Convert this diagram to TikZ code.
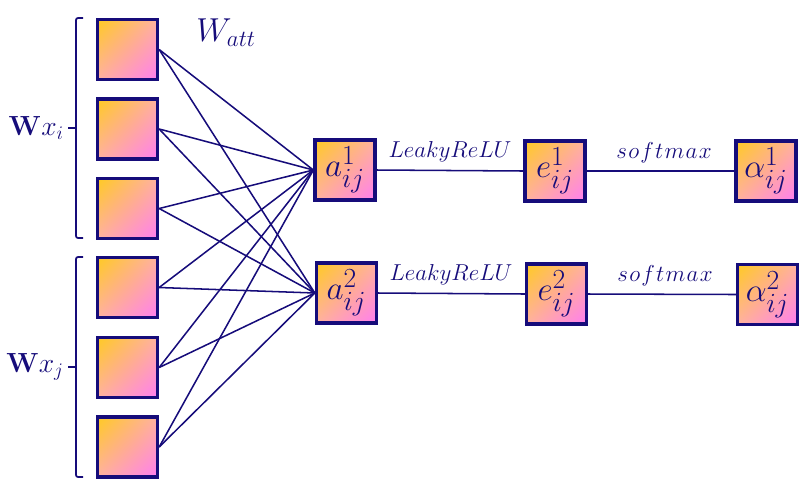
\documentclass[tikz,border=0pt]{standalone}
\usepackage{amsmath}
\usetikzlibrary{shadings}
\begin{document}
\definecolor{navy}{RGB}{22,12,122}
\definecolor{gy}{RGB}{255,202,34}
\definecolor{gm}{RGB}{255,178,160}
\definecolor{gp}{RGB}{255,125,240}
\begin{tikzpicture}[x=0.75pt,y=-0.75pt,
  cell/.style={draw=navy,line width=2.5pt,minimum size=45pt,inner sep=0pt,
    shade,upper left=gy,upper right=gm,lower left=gm,lower right=gp,
    text=navy,font=\fontsize{31}{33}\selectfont},
  link/.style={draw=navy,line width=1.15pt},
  lbl/.style={text=navy,font=\fontsize{16.5}{18}\selectfont,inner sep=0pt},
  sml/.style={text=navy,font=\fontsize{17.5}{19}\selectfont,inner sep=0pt},
  brace/.style={draw=navy,line width=1.3pt,rounded corners=1.5pt}]
\useasboundingbox (0,0) rectangle (800,480);
% left column
\node[cell] (l1) at (127.5,49.5) {};
\node[cell] (l2) at (127.5,129) {};
\node[cell] (l3) at (127.5,208.5) {};
\node[cell] (l4) at (127.5,287.5) {};
\node[cell] (l5) at (127.5,367.5) {};
\node[cell] (l6) at (127.5,447) {};
% attention nodes
\node[cell] (a1) at (345,170) {$a^1_{ij}$};
\node[cell] (a2) at (346.5,293) {$a^2_{ij}$};
\node[cell] (e1) at (555,171) {$e^1_{ij}$};
\node[cell] (e2) at (556.5,294) {$e^2_{ij}$};
\node[cell] (s1) at (766,171) {$\alpha^1_{ij}$};
\node[cell] (s2) at (767.5,294.5) {$\alpha^2_{ij}$};
% connections
\foreach \i in {1,...,6} {
  \draw[link] (l\i.east) -- (a1.west);
  \draw[link] (l\i.east) -- (a2.west);
}
\draw[link] (a1.east) -- (e1.west);
\draw[link] (e1.east) -- (s1.west);
\draw[link] (a2.east) -- (e2.west);
\draw[link] (e2.east) -- (s2.west);
% labels
\node[lbl] (r1) at (450,152) {$LeakyReLU$};
\node[lbl] (r2) at (451,275) {$LeakyReLU$};
\node[sml] (m1) at (664,153) {$s\mkern1mu o\mkern1mu f\mkern1mu t\mkern1mu m\mkern1mu a\mkern1mu x$};
\node[sml] (m2) at (665,276) {$s\mkern1mu o\mkern1mu f\mkern1mu t\mkern1mu m\mkern1mu a\mkern1mu x$};
\node[text=navy,font=\fontsize{26}{28}\selectfont] (watt) at (226,33) {$W_{att}$};
% braces
\coordinate (bi) at (68,128);
\coordinate (bj) at (68,367);
\draw[brace] (83,18) -- (76,18) -- (76,238) -- (83,238);
\draw[brace] (76,128) -- (bi);
\draw[brace] (83,257) -- (76,257) -- (76,477) -- (83,477);
\draw[brace] (76,367) -- (bj);
\node[text=navy,font=\fontsize{21.5}{23}\selectfont,anchor=east,inner sep=0pt] (wxi) at (64,128) {$\mathbf{W}x_i$};
\node[text=navy,font=\fontsize{21.5}{23}\selectfont,anchor=east,inner sep=0pt] (wxj) at (64,367) {$\mathbf{W}x_j$};
\end{tikzpicture}
\end{document}
